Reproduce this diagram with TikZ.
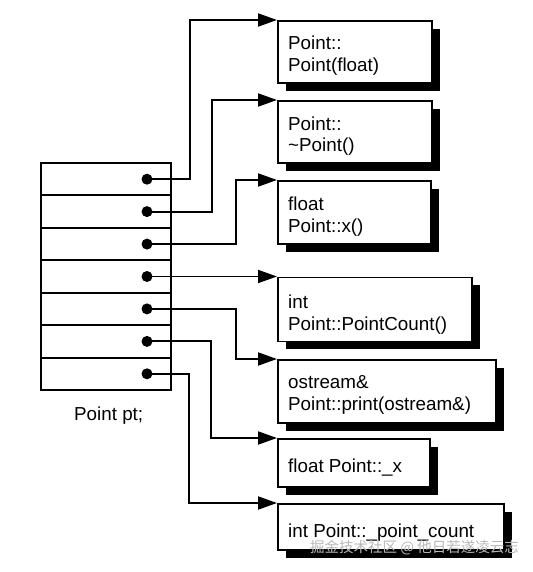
\documentclass[tikz,border=0pt]{standalone}
\usepackage{fontspec}
\setmainfont{Liberation Sans}
\newfontfamily\cjk{Noto Sans CJK SC}
\usetikzlibrary{arrows.meta,shadows}
\begin{document}
\begin{tikzpicture}[x=1pt,y=-1pt,
  conn/.style={line width=1.9pt,-{Triangle[length=19pt,width=13pt]}},
  cell/.style={draw,line width=1.9pt,minimum width=130pt,minimum height=32.43pt,inner sep=0pt},
  dot/.style={circle,fill,inner sep=0pt,minimum size=11pt},
  membox/.style={draw,fill=white,line width=1.6pt,inner sep=0pt,anchor=north west,
    drop shadow={shadow xshift=8pt,shadow yshift=-8pt,fill=black,opacity=1}},
  txt/.style={font=\fontsize{18.8}{22}\selectfont,inner sep=0pt,anchor=base west},
  wm/.style={font=\cjk\fontsize{14.5}{16}\selectfont,text=gray!55,inner sep=0pt,anchor=west}]
\useasboundingbox (0,0) rectangle (532,572);

% object table
\foreach \i/\y in {1/179.2,2/211.6,3/244.1,4/276.5,5/308.9,6/341.4,7/373.8}{
  \node[cell] (r\i) at (106,\y) {};
  \node[dot] (d\i) at (147,\y) {};
}
\node[txt] (lbl) at (74,420) {Point pt;};

% member boxes
\node[membox,minimum width=154pt,minimum height=62pt] (b1) at (277,20) {};
\node[membox,minimum width=154pt,minimum height=62pt] (b2) at (277,100) {};
\node[membox,minimum width=153pt,minimum height=63pt] (b3) at (277,180) {};
\node[membox,minimum width=194pt,minimum height=64pt] (b4) at (277,276.5) {};
\node[membox,minimum width=218pt,minimum height=63pt] (b5) at (277,359) {};
\node[membox,minimum width=152pt,minimum height=48pt] (b6) at (277,438) {};
\node[membox,minimum width=226pt,minimum height=46pt] (b7) at (277,503) {};

\node[txt] (t1a) at (288,50) {Point::};
\node[txt] (t1b) at (288,72) {Point(float)};
\node[txt] (t2a) at (288,131) {Point::};
\node[txt] (t2b) at (288,152) {\char`\~Point()};
\node[txt] (t3a) at (288,210) {float};
\node[txt] (t3b) at (288,232) {Point::x()};
\node[txt] (t4a) at (288,308) {int};
\node[txt] (t4b) at (288,330) {Point::PointCount()};
\node[txt] (t5a) at (288,388) {ostream\&};
\node[txt] (t5b) at (288,410) {Point::print(ostream\&)};
\node[txt] (t6) at (288,472) {float Point::\_x};
\node[txt] (t7) at (288,537) {int Point::\_point\_count};

% connectors
\draw[conn] (d1.center) -- ++(43,0) |- (b1.north west);
\draw[conn] (d2.center) -- ++(65,0) |- (b2.north west);
\draw[conn] (d3.center) -- ++(89,0) |- (b3.north west);
\draw[conn] (d4.center) -- (b4.north west);
\draw[conn] (d5.center) -- ++(89,0) |- (b5.north west);
\draw[conn] (d6.center) -- ++(64,0) |- (b6.north west);
\draw[conn] (d7.center) -- ++(42,0) |- (b7.north west);

\node[wm] (wmk) at (310,548) {掘金技术社区 @ 他日若遂凌云志};
\end{tikzpicture}
\end{document}
